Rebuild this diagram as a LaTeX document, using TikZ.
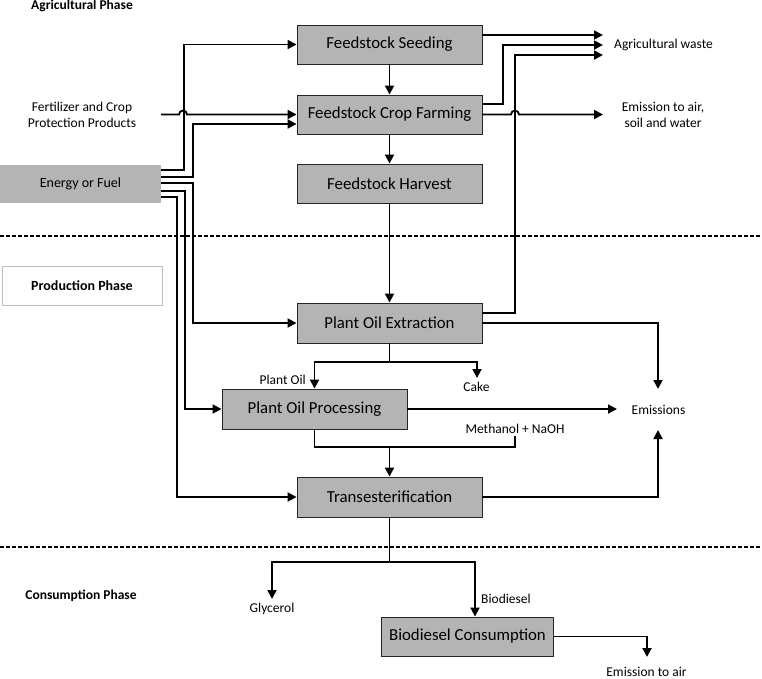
\documentclass[tikz,border=0pt]{standalone}
\usepackage{fontspec}
\setmainfont{Carlito}
\usetikzlibrary{arrows.meta}
\definecolor{boxgray}{RGB}{180,180,180}
\definecolor{lightborder}{RGB}{190,190,190}
\tikzset{
  stepbox/.style={draw=black!85, line width=0.9pt, fill=boxgray, minimum width=185pt, minimum height=39pt, inner sep=0pt, font=\fontsize{16.8}{19}\selectfont},
  lbl/.style={inner sep=0pt, font=\fontsize{13.5}{16}\selectfont, align=center},
  blbl/.style={inner sep=0pt, font=\fontsize{13.5}{16}\selectfont\bfseries, align=center},
  conn/.style={line width=1.8pt, black},
  arr/.style={conn, -{Triangle[length=9pt,width=9pt]}},
  phaseline/.style={line width=1.8pt, dash pattern=on 4pt off 2pt},
}
\begin{document}
\begin{tikzpicture}[x=1pt,y=-1pt]
\useasboundingbox (0,0) rectangle (762,678);

% boxes
\node[stepbox] (seed) at (389.5,44.5) {Feedstock Seeding};
\node[stepbox] (farm) at (389.5,114.5) {Feedstock Crop Farming};
\node[stepbox] (harv) at (389.5,183.5) {Feedstock Harvest};
\node[stepbox, minimum height=40pt] (extr) at (389.5,323) {Plant Oil Extraction};
\node[stepbox, minimum height=40pt] (proc) at (314.5,409) {Plant Oil Processing};
\node[stepbox, minimum height=40pt] (trans) at (389.5,497) {Transesterification};
\node[stepbox, minimum width=172pt] (cons) at (467.5,636.5) {Biodiesel Consumption};
\node[fill=boxgray, minimum width=161pt, minimum height=38pt, inner sep=0pt, font=\fontsize{14}{16}\selectfont] (energy) at (80.5,184) {Energy or Fuel};
\node[draw=lightborder, line width=0.8pt, fill=white, minimum width=160pt, minimum height=39pt, inner sep=0pt, font=\fontsize{14}{16}\selectfont\bfseries] (prod) at (82,285.5) {Production Phase};

% labels
\node[blbl, anchor=base] (agr) at (82,9.5) {Agricultural Phase};
\node[lbl] (fert) at (82,115) {Fertilizer and Crop\\Protection Products};
\node[lbl, anchor=west] (aw) at (614,45) {Agricultural waste};
\node[lbl] (eas) at (663,115) {Emission to air,\\soil and water};
\node[lbl, anchor=east] (poil) at (306,380) {Plant Oil};
\node[lbl] (cake) at (476.5,387) {Cake};
\node[lbl] (ems) at (658.5,410) {Emissions};
\node[lbl] (meth) at (515,429) {Methanol + NaOH};
\node[blbl] (consph) at (81,596) {Consumption Phase};
\node[lbl] (glyc) at (272,609) {Glycerol};
\node[lbl, anchor=west] (biod) at (481,599) {Biodiesel};
\node[lbl, anchor=base] (eair) at (646.5,676) {Emission to air};

% arrow end points
\coordinate (aw1) at (603,35);
\coordinate (aw2) at (603,45);
\coordinate (aw3) at (603,55);
\coordinate (eastip) at (603,114.5);
\coordinate (fstart) at (161,114.5);
\coordinate (em1) at (658,389);
\coordinate (em2) at (617,409);
\coordinate (em3) at (658,430);
\coordinate (caketip) at (477,378);
\coordinate (glytip) at (272,599);
\coordinate (eairtip) at (647,657);
\coordinate (methtop) at (515,436);

% phase separators
\draw[phaseline] (0,236) -- (762,236);
\draw[phaseline] (0,547) -- (762,547);

% main chain
\draw[arr] (seed) -- (farm);
\draw[arr] (farm) -- (harv);
\draw[arr] (harv) -- (extr);

% energy inputs
\draw[arr] ([yshift=14pt]energy.east) -- ++(22.5,0) |- (seed.west);
\draw[arr] ([yshift=7pt]energy.east) -- ++(31.5,0) |- ([yshift=-9.5pt]farm.west);
\draw[arr] ([yshift=1pt]energy.east) -- ++(32,0) |- (extr.west);
\draw[arr] ([yshift=-7pt]energy.east) -- ++(23.5,0) |- (proc.west);
\draw[arr] ([yshift=-13pt]energy.east) -- ++(15.5,0) |- (trans.west);

% fertilizer with hop
\draw[arr] (fstart) -- (179,114.5) arc[start angle=180,end angle=0,radius=4pt] -- (farm.west);

% agricultural waste
\draw[arr] ([yshift=9.5pt]seed.east) -- (aw1);
\draw[arr] ([yshift=10.5pt]farm.east) -- (503,104) |- (aw2);
\draw[arr] ([yshift=10pt]extr.east) -- (515,313) |- (aw3);

% emission to air, soil, water with hop
\draw[arr] (farm.east) -- (511,114.5) arc[start angle=180,end angle=0,radius=4pt] -- (eastip);

% emissions
\draw[arr] (extr.east) -| (em1);
\draw[arr] (proc.east) -- (em2);
\draw[arr] (trans.east) -| (em3);

% extraction split
\draw[arr] (extr.south) -- (389.5,362) -| (proc.north);
\draw[arr] (389.5,362) -| (caketip);

% processing to transesterification
\draw[arr] (proc.south) -- (314.5,447) -| (trans.north);
\draw[conn] (methtop) -- (515,447) -- (389.5,447);

% products
\draw[arr] (trans.south) -- (389.5,562) -| (glytip);
\draw[arr] (389.5,562) -| ([xshift=7.5pt]cons.north);
\draw[arr] (cons.east) -| (eairtip);
\end{tikzpicture}
\end{document}
